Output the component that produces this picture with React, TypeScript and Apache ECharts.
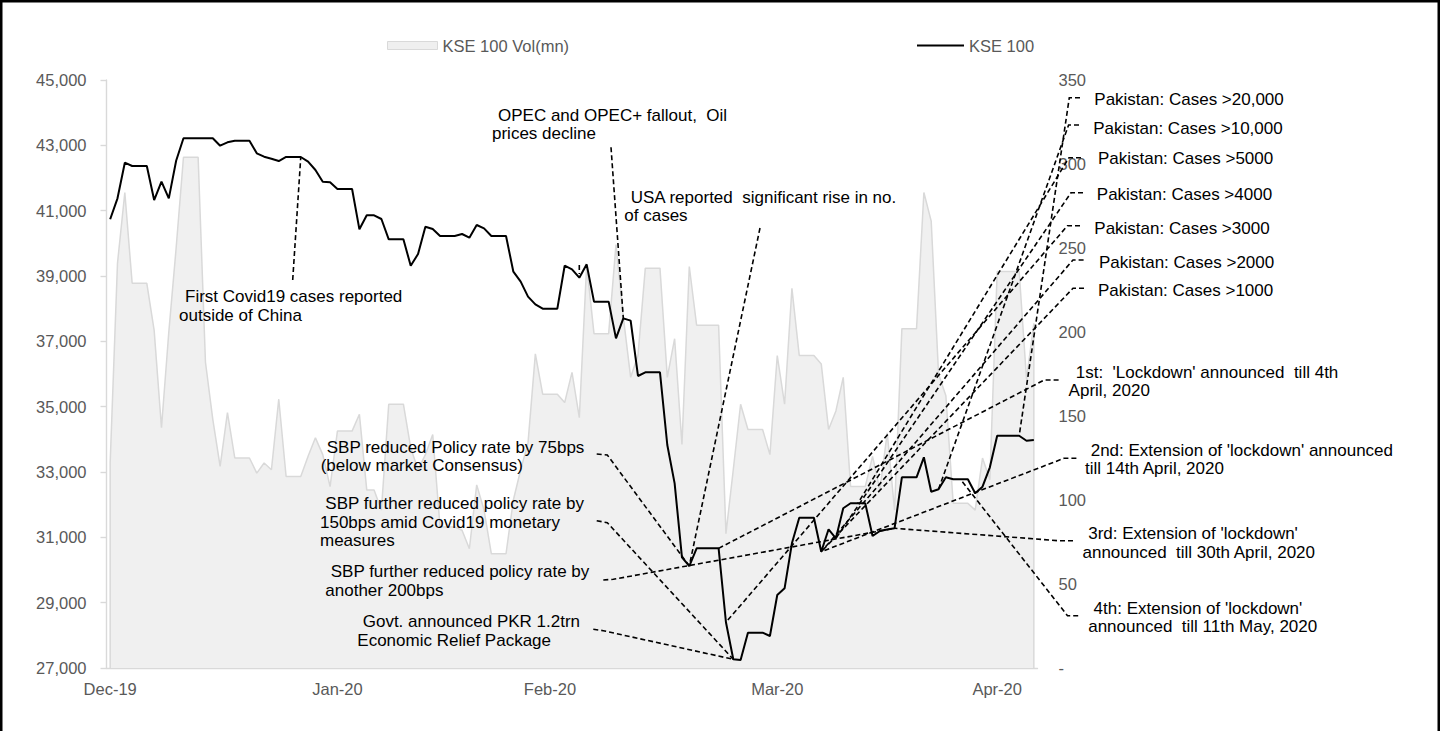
import React, { useEffect, useRef } from 'react';
import * as echarts from 'echarts';

// ---------------- DATA ----------------
// Daily series (calendar days, weekends/holidays carry the previous close), 31-Dec-2019 .. 05-May-2020
const kse100 = [
  40736, 41378, 42469, 42367, 42367, 42367, 41326, 41887, 41378, 42530,
  43215, 43215, 43215, 43215, 43215, 42989, 43092, 43142, 43142, 43142,
  42756, 42652, 42591, 42520, 42643, 42643, 42643, 42499, 42245, 41887,
  41868, 41663, 41663, 41663, 40429, 40858, 40858, 40745, 40123, 40123,
  40123, 39315, 39673, 40510, 40439, 40224, 40224, 40224, 40286, 40173,
  40561, 40459, 40224, 40224, 40224, 39132, 38826, 38367, 38132, 38000,
  38000, 38000, 39315, 39204, 38949, 39357, 38214, 38214, 38214, 37092,
  37704, 37633, 35939, 36051, 36051, 36051, 33826, 32653, 30388, 30122,
  30663, 30663, 30663, 30663, 28400, 27266, 27245, 28081, 28081, 28081,
  27980, 29235, 29440, 30817, 31601, 31601, 31601, 30560, 31246, 30970,
  31889, 32042, 32042, 32042, 31041, 31194, 31237, 31276, 32838, 32838,
  32838, 33450, 32397, 32470, 32838, 32776, 32776, 32776, 32348, 32550,
  33144, 34111, 34111, 34111, 34111, 33958, 33980,
];

const kseVolMn = [
  122, 241, 283, 229, 229, 229, 201, 143, 200, 250,
  304, 304, 304, 182, 148, 120, 152, 125, 125, 125,
  116, 122, 118, 160, 114, 114, 114, 126, 137, 127,
  108, 141, 141, 141, 151, 106, 106, 94, 157, 157,
  157, 131, 118, 127, 139, 84, 84, 84, 82, 71,
  109, 94, 68, 68, 68, 100, 118, 134, 187, 163,
  163, 163, 158, 176, 149, 240, 199, 199, 199, 252,
  209, 173, 186, 238, 238, 238, 173, 196, 133, 239,
  204, 204, 204, 204, 80, 118, 157, 142, 142, 142,
  127, 186, 157, 226, 186, 186, 186, 181, 142, 153,
  173, 108, 108, 108, 126, 106, 140, 94, 202, 202,
  202, 283, 266, 175, 162, 98, 98, 98, 94, 125,
  112, 236, 236, 236, 236, 172, 205,
];

const tickDates = ['2019-12-31', '2020-01-31', '2020-02-29', '2020-03-31', '2020-04-30'];
const tickLabels = ['Dec-19', 'Jan-20', 'Feb-20', 'Mar-20', 'Apr-20'];

const seriesNames = ['KSE 100 Vol(mn)', 'KSE 100'];

// category dates (one per calendar day)
const dates: string[] = (() => {
  const out: string[] = [];
  const d0 = Date.UTC(2019, 11, 31);
  for (let i = 0; i < kse100.length; i++) {
    out.push(new Date(d0 + i * 86400000).toISOString().slice(0, 10));
  }
  return out;
})();

// ---------------- ANNOTATIONS (layout) ----------------
type Line = { t: string; x: number; y: number };
type Note = { lines: Line[]; via: number[][]; date: string };

const notes: Note[] = [
  { lines: [{ t: 'First Covid19 cases reported', x: 185, y: 296 }, { t: 'outside of China', x: 179, y: 315 }], via: [[292.7, 280]], date: '2020-01-26' },
  { lines: [{ t: 'OPEC and OPEC+ fallout,  Oil', x: 498, y: 115.5 }, { t: 'prices decline', x: 492, y: 133.5 }], via: [[611, 147.3]], date: '2020-03-10' },
  { lines: [{ t: 'USA reported  significant rise in no.', x: 630.7, y: 197.2 }, { t: 'of cases', x: 624.3, y: 215.2 }], via: [[760, 228]], date: '2020-03-19' },
  { lines: [{ t: 'SBP reduced Policy rate by 75bps', x: 326.7, y: 447.2 }, { t: '(below market Consensus)', x: 320.7, y: 465.7 }], via: [[596.7, 454], [607.3, 455]], date: '2020-03-19' },
  { lines: [{ t: 'SBP further reduced policy rate by', x: 325.3, y: 503.5 }, { t: '150bps amid Covid19 monetary', x: 320, y: 522.2 }, { t: 'measures', x: 320, y: 540.9 }], via: [[596.7, 520.7], [607.3, 522.7]], date: '2020-03-25' },
  { lines: [{ t: 'SBP further reduced policy rate by', x: 330.7, y: 571.8 }, { t: 'another 200bps', x: 325.3, y: 590.2 }], via: [[603.3, 580], [613.3, 579.3]], date: '2020-04-16' },
  { lines: [{ t: 'Govt. announced PKR 1.2trn', x: 362.7, y: 621.8 }, { t: 'Economic Relief Package', x: 357.3, y: 640.5 }], via: [[593.3, 629.3], [603.3, 630.7]], date: '2020-03-25' },
  { lines: [{ t: 'Pakistan: Cases >20,000', x: 1094.3, y: 99.5 }], via: [[1080, 97.7], [1069.3, 97.7]], date: '2020-05-03' },
  { lines: [{ t: 'Pakistan: Cases >10,000', x: 1093.2, y: 128.5 }], via: [[1079, 125], [1068.6, 125]], date: '2020-04-22' },
  { lines: [{ t: 'Pakistan: Cases >5000', x: 1097.9, y: 158.5 }], via: [[1081, 157.7], [1069, 157.7]], date: '2020-04-11' },
  { lines: [{ t: 'Pakistan: Cases >4000', x: 1096.8, y: 194.5 }], via: [[1083, 192.7], [1071, 192.7]], date: '2020-04-08' },
  { lines: [{ t: 'Pakistan: Cases >3000', x: 1094.3, y: 228.5 }], via: [[1080, 225.7], [1067.5, 225.7]], date: '2020-03-24' },
  { lines: [{ t: 'Pakistan: Cases >2000', x: 1098.9, y: 262.5 }], via: [[1083.6, 260], [1073, 260]], date: '2020-04-06' },
  { lines: [{ t: 'Pakistan: Cases >1000', x: 1097.9, y: 290.5 }], via: [[1084, 288.3], [1073, 288.3]], date: '2020-04-06' },
  { lines: [{ t: "1st:  'Lockdown' announced  till 4th", x: 1075.7, y: 372.8 }, { t: 'April, 2020', x: 1068.6, y: 390.5 }], via: [[1058.6, 380], [1044.3, 380]], date: '2020-03-23' },
  { lines: [{ t: "2nd: Extension of 'lockdown' announced", x: 1090.7, y: 450.5 }, { t: 'till 14th April, 2020', x: 1085, y: 468.5 }], via: [[1076.4, 458.3], [1064, 458.3]], date: '2020-04-06' },
  { lines: [{ t: "3rd: Extension of 'lockdown'", x: 1088.2, y: 533.8 }, { t: 'announced  till 30th April, 2020', x: 1082.5, y: 552.2 }], via: [[1073, 540.7], [1058.6, 540.7]], date: '2020-04-16' },
  { lines: [{ t: "4th: Extension of 'lockdown'", x: 1093.6, y: 608.8 }, { t: 'announced  till 11th May, 2020', x: 1088.2, y: 626.8 }], via: [[1078.2, 615.7], [1067.5, 615.7]], date: '2020-04-25' },
];

const FONT = '"Liberation Sans", Arial, Helvetica, sans-serif';
const GRID = { left: 106.5, right: 402.5, top: 80, bottom: 63 };

export default function App() {
  const ref = useRef<HTMLDivElement>(null);

  useEffect(() => {
    if (!ref.current) return;
    const chart = echarts.init(ref.current, null, { renderer: 'svg' });
    const tickIdx = new Set(tickDates.map((d) => dates.indexOf(d)));
    const labelOf: Record<string, string> = {};
    tickDates.forEach((d, i) => (labelOf[d] = tickLabels[i]));

    chart.setOption({
      animation: false,
      backgroundColor: '#ffffff',
      textStyle: { fontFamily: FONT },
      grid: { ...GRID, containLabel: false },
      legend: [
        {
          data: [seriesNames[0]],
          left: 382,
          top: 32,
          icon: 'rect',
          itemWidth: 50,
          itemHeight: 8,
          itemGap: 0,
          itemStyle: { color: '#efefef', borderColor: '#d9d9d9', borderWidth: 1 },
          textStyle: { fontSize: 16.5, color: '#595959', fontFamily: FONT },
          selectedMode: false,
        },
        {
          data: [seriesNames[1]],
          left: 912,
          top: 32,
          icon: 'rect',
          itemWidth: 47,
          itemHeight: 2,
          itemStyle: { color: '#000000', borderWidth: 0 },
          textStyle: { fontSize: 16.5, color: '#595959', fontFamily: FONT },
          selectedMode: false,
        },
      ],
      xAxis: {
        type: 'category',
        data: dates,
        boundaryGap: true,
        axisLine: { show: true, lineStyle: { color: '#d9d9d9', width: 1.4 } },
        axisTick: { show: false },
        splitLine: { show: false },
        axisLabel: {
          interval: (index: number) => tickIdx.has(index),
          formatter: (v: string) => labelOf[v] ?? '',
          fontSize: 16.5,
          color: '#595959',
          fontFamily: FONT,
          margin: 12,
        },
      },
      yAxis: [
        {
          type: 'value',
          position: 'left',
          min: 27000,
          max: 45000,
          interval: 2000,
          axisLine: { show: true, lineStyle: { color: '#d9d9d9', width: 1.4 } },
          axisTick: { show: true, length: 6, lineStyle: { color: '#d9d9d9', width: 1.4 } },
          splitLine: { show: false },
          axisLabel: {
            fontSize: 16.5,
            color: '#595959',
            fontFamily: FONT,
            margin: 20,
            formatter: (v: number) => v.toLocaleString('en-US'),
          },
        },
        {
          type: 'value',
          position: 'right',
          min: 0,
          max: 350,
          interval: 50,
          axisLine: { show: false },
          axisTick: { show: false },
          splitLine: { show: false },
          axisLabel: {
            fontSize: 16.5,
            color: '#595959',
            fontFamily: FONT,
            margin: 21,
            align: 'left',
            formatter: (v: number) => (v === 0 ? '-' : String(v)),
          },
        },
      ],
      series: [
        {
          name: seriesNames[0],
          type: 'line',
          yAxisIndex: 1,
          data: kseVolMn,
          symbol: 'none',
          z: 1,
          itemStyle: { color: '#efefef' },
          lineStyle: { color: '#d9d9d9', width: 1.5 },
          areaStyle: { color: '#f0f0f0', opacity: 1 },
        },
        {
          name: seriesNames[1],
          type: 'line',
          yAxisIndex: 0,
          data: kse100,
          symbol: 'none',
          z: 3,
          itemStyle: { color: '#000000' },
          lineStyle: { color: '#000000', width: 2 },
        },
      ],
    });

    const pt = (date: string) => {
      const i = dates.indexOf(date);
      return chart.convertToPixel({ seriesIndex: 1 }, [i, kse100[i]]) as number[];
    };
    const volPt = (i: number) => chart.convertToPixel({ seriesIndex: 0 }, [i, kseVolMn[i]]) as number[];
    const basePt = (i: number) => chart.convertToPixel({ seriesIndex: 0 }, [i, 0]) as number[];

    const elements: any[] = [];
    const dashStyle = { stroke: '#000000', lineWidth: 1.6, lineDash: [5, 3], fill: null };
    notes.forEach((n) => {
      n.lines.forEach((l) => {
        elements.push({
          type: 'text',
          x: l.x,
          y: l.y,
          z: 50,
          silent: true,
          style: {
            text: l.t,
            fill: '#000000',
            font: `17px ${FONT}`,
            align: 'left',
            textAlign: 'left',
            verticalAlign: 'middle',
            textVerticalAlign: 'middle',
          },
        });
      });
      elements.push({
        type: 'polyline',
        z: 40,
        silent: true,
        shape: { points: [...n.via, pt(n.date)] },
        style: dashStyle,
      });
    });
    // vertical edges of the volume area (start and end), as drawn by the area outline
    const last = kseVolMn.length - 1;
    [0, last].forEach((i) => {
      const a = basePt(i);
      const b = volPt(i);
      elements.push({
        type: 'line',
        z: 2,
        silent: true,
        shape: { x1: a[0], y1: a[1], x2: b[0], y2: b[1] },
        style: { stroke: '#d9d9d9', lineWidth: 1.5 },
      });
    });
    // small stray leader tick above the line in early March
    elements.push({
      type: 'line',
      z: 40,
      silent: true,
      shape: { x1: 579.3, y1: 265, x2: 579.3, y2: 274 },
      style: dashStyle,
    });
    // outer frame (top, left, right)
    elements.push({
      type: 'rect',
      z: 60,
      silent: true,
      shape: { x: 1.25, y: 1.25, width: 1437.5, height: 760 },
      style: { fill: null, stroke: '#000000', lineWidth: 2.5 },
    });

    chart.setOption({ graphic: { elements } });

    return () => chart.dispose();
  }, []);

  return (
    <div
      ref={ref}
      style={{ position: 'fixed', left: 0, top: 0, width: 1440, height: 731, background: '#ffffff' }}
    />
  );
}
